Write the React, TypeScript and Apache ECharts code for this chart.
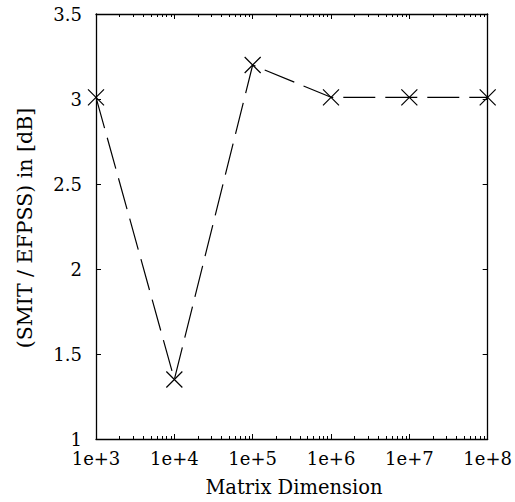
import React, { useEffect, useRef } from "react";
import * as echarts from "echarts";

// Matrix dimension (x) and SMIT/EFPSS ratio in dB (y)
const dimensions = [1e3, 1e4, 1e5, 1e6, 1e7, 1e8];
const ratioDb = [3.01, 1.35, 3.2, 3.01, 3.01, 3.01];

// Decade labels on the log axis
const decadeLabels = ["1e+3", "1e+4", "1e+5", "1e+6", "1e+7", "1e+8"];
// Minor tick positions (2..9 within each decade)
const minorMultipliers = [2, 3, 4, 5, 6, 7, 8, 9];

const xTitle = "Matrix Dimension";
const yTitle = "(SMIT / EFPSS) in [dB]";

const FONT = "'DejaVu Serif', 'Liberation Serif', serif";

export default function App() {
  const ref = useRef<HTMLDivElement>(null);

  useEffect(() => {
    document.body.style.margin = "0";
    if (!ref.current) return;
    const chart = echarts.init(ref.current, null, { renderer: "svg" });

    const minorLogValues: number[] = [];
    for (let d = 0; d < decadeLabels.length - 1; d++) {
      const base = dimensions[d];
      for (const m of minorMultipliers) minorLogValues.push(Math.log10(base * m));
    }
    const logMin = Math.log10(dimensions[0]);
    const logMax = Math.log10(dimensions[dimensions.length - 1]);

    const axisLine = { show: true, lineStyle: { color: "#000", width: 1.3 } };
    const labelStyle = { fontFamily: FONT, fontSize: 18, color: "#000" };

    const logAxisBase = {
      type: "log" as const,
      logBase: 10,
      min: dimensions[0],
      max: dimensions[dimensions.length - 1],
      splitLine: { show: false },
      axisLine,
    };
    const minorAxisBase = {
      type: "value" as const,
      min: logMin,
      max: logMax,
      splitLine: { show: false },
      axisLine: { show: false },
      axisLabel: { show: false },
      axisTick: {
        show: true,
        inside: true,
        length: 3,
        customValues: minorLogValues,
        lineStyle: { color: "#000", width: 1 },
      },
    };

    const series = [
      {
        type: "line",
        xAxisIndex: 0,
        yAxisIndex: 0,
        data: dimensions.map((d, i) => [d, ratioDb[i]]),
        symbol: "path://M0 0L10 10M10 0L0 10",
        symbolSize: 16,
        itemStyle: { color: "#000", borderColor: "#000", borderWidth: 1.2 },
        lineStyle: { color: "#000", width: 1.2, type: [32, 10] },
        clip: false,
      },
    ];

    chart.setOption({
      animation: false,
      backgroundColor: "#fff",
      grid: { left: 96, right: 22, top: 14, bottom: 63, containLabel: false },
      xAxis: [
        {
          ...logAxisBase,
          position: "bottom",
          axisTick: { show: true, inside: true, length: 5, lineStyle: { color: "#000" } },
          axisLabel: {
            ...labelStyle,
            margin: 10,
            formatter: (v: number) => decadeLabels[Math.round(Math.log10(v)) - 3],
          },
        },
        {
          ...logAxisBase,
          position: "top",
          axisTick: { show: true, inside: true, length: 5, lineStyle: { color: "#000" } },
          axisLabel: { show: false },
        },
        { ...minorAxisBase, position: "bottom" },
        { ...minorAxisBase, position: "top" },
      ],
      yAxis: [
        {
          type: "value",
          position: "left",
          min: 1,
          max: 3.5,
          interval: 0.5,
          splitLine: { show: false },
          axisLine,
          axisTick: { show: true, inside: true, length: 5, lineStyle: { color: "#000" } },
          axisLabel: { ...labelStyle, margin: 14 },
        },
        {
          type: "value",
          position: "right",
          min: 1,
          max: 3.5,
          interval: 0.5,
          splitLine: { show: false },
          axisLine,
          axisTick: { show: true, inside: true, length: 5, lineStyle: { color: "#000" } },
          axisLabel: { show: false },
        },
      ],
      series,
      graphic: [
        {
          type: "text",
          x: 294,
          y: 487,
          style: {
            text: xTitle,
            fontFamily: FONT,
            fontSize: 19.5,
            fill: "#000",
            align: "center",
            verticalAlign: "middle",
          },
        },
        {
          type: "text",
          x: 25,
          y: 228,
          rotation: Math.PI / 2,
          style: {
            text: yTitle,
            fontFamily: FONT,
            fontSize: 20.5,
            fill: "#000",
            align: "center",
            verticalAlign: "middle",
          },
        },
      ],
    });

    return () => chart.dispose();
  }, []);

  return <div ref={ref} style={{ width: 515, height: 502 }} />;
}
